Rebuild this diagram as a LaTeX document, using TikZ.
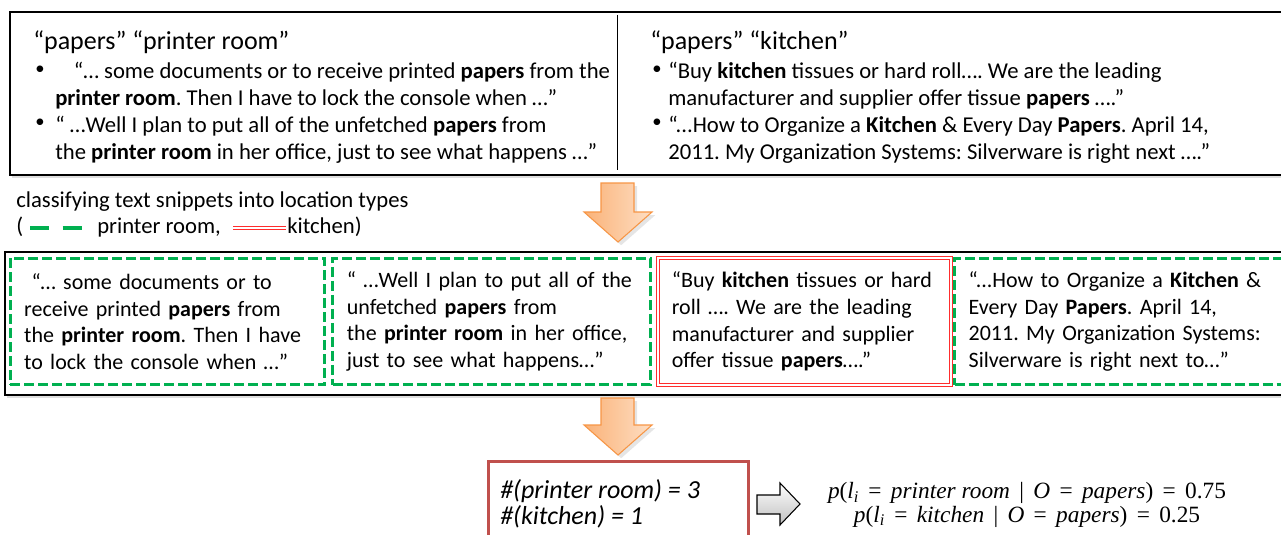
\documentclass[tikz,border=0pt]{standalone}
\usepackage{fontspec}
\setmainfont{Carlito}
\newfontfamily\formfont{Liberation Serif}
\usetikzlibrary{shadows}
\definecolor{prgreen}{RGB}{0,176,80}
\definecolor{kred}{RGB}{255,45,45}
\definecolor{cntred}{RGB}{192,80,77}
\definecolor{arrline}{RGB}{247,150,70}
\definecolor{arrdark}{RGB}{250,178,120}
\definecolor{arrlight}{RGB}{254,222,195}
\newcommand{\rel}[1]{\hspace{0.4em}#1\hspace{0.4em}}

\begin{document}
\frenchspacing
\begin{tikzpicture}[x=0.75pt,y=-0.75pt,
  frame/.style={draw=black,line width=1.5pt,fill=white,drop shadow={shadow xshift=1.5pt,shadow yshift=-2pt,opacity=0.25}},
  head/.style={anchor=base west,inner sep=0pt,align=left,font=\fontsize{19.5}{22}\selectfont},
  body/.style={anchor=north west,inner sep=0pt,align=left,font=\fontsize{17}{20}\selectfont},
  line/.style={anchor=base west,inner sep=0pt,font=\fontsize{17}{20}\selectfont},
  dot/.style={inner sep=0pt,font=\fontsize{14}{20}\selectfont},
  snip/.style={minimum height=95pt,inner xsep=10.5pt,align=left,font=\fontsize{16.5}{20}\selectfont},
  prbox/.style={snip,draw=prgreen,line width=2.25pt,dash pattern=on 7.5pt off 3pt},
  kbox/.style={snip,draw=kred,double=white,line width=0.8pt,double distance=1.5pt},
  downarr/.style={draw=arrline,line width=0.8pt,left color=arrdark,right color=arrlight,drop shadow={opacity=0.2}},
  rightarr/.style={draw=black,line width=0.8pt,top color=white,bottom color=gray!50}]
\clip (0,0) rectangle (1281,535);
\fill[white] (0,0) rectangle (1281,535);

% query results for the two location types
\draw[frame] (10,12) rectangle (1295,175);
\draw[line width=0.6pt] (617,15) -- (617,170);
\node[head] (titlePR) at (33,50) {“papers” “printer room”};
\node[dot] (dotPR1) at (40,70) {\textbullet};
\node[body] (itemPR1) at (55,62) {\hspace*{14pt}“… some documents or to receive printed \textbf{papers} from the\\\textbf{printer room}. Then I have to lock the console when …”};
\node[dot] (dotPR2) at (40,123) {\textbullet};
\node[body] (itemPR2) at (55,116) {“ …Well I plan to put all of the unfetched \textbf{papers} from\\the \textbf{printer room} in her office, just to see what happens …”};
\node[head] (titleK) at (650,50) {“papers” “kitchen”};
\node[dot] (dotK1) at (657,70) {\textbullet};
\node[body] (itemK1) at (668,62) {“Buy \textbf{kitchen} tissues or hard roll…. We are the leading\\manufacturer and supplier offer tissue \textbf{papers} ….”};
\node[dot] (dotK2) at (657,123) {\textbullet};
\node[body] (itemK2) at (668,116) {“...How to Organize a \textbf{Kitchen} \& Every Day \textbf{Papers}. April 14,\\2011. My Organization Systems: Silverware is right next ….”};

% legend
\node[line] (legend) at (16,207) {classifying text snippets into location types};
\node[line] (legOpen) at (16,233) {(};
\draw[prgreen,line width=3pt,dash pattern=on 14.5pt off 10pt] (30,228) -- (83,228);
\node[line] (legPR) at (97,233) {printer room,};
\draw[kred,double=white,line width=0.8pt,double distance=1.2pt] (233,228) -- (286,228);
\node[line] (legK) at (287,233) {kitchen)};

\draw[downarr] (601,183) -- (634,183) -- (634,212) -- (652,212) -- (618,242) -- (584,212) -- (601,212) -- cycle;

% classified snippets
\draw[frame] (5,252) rectangle (1295,395);
\node[prbox,text width=215pt] (snipA) at (167.5,321.5) {\ “… some documents or to\\receive printed \textbf{papers} from\\the \textbf{printer room}. Then I have\\to lock the console when …”};
\node[prbox,text width=217pt] (snipB) at (491.5,321.5) {“ …Well I plan to put all of the\\unfetched \textbf{papers} from\\the \textbf{printer room} in her office,\\just to see what happens…”};
\node[kbox,text width=199pt] (snipC) at (804.5,321.5) {“Buy \textbf{kitchen} tissues or hard\\roll …. We are the leading\\manufacturer and supplier\\offer tissue \textbf{papers}….”};
\node[prbox,text width=233pt] (snipD) at (1124,321.5) {“...How to Organize a \textbf{Kitchen} \&\\Every Day \textbf{Papers}. April 14,\\2011. My Organization Systems:\\Silverware is right next to…”};

\draw[downarr] (601,398) -- (634,398) -- (634,425) -- (652,425) -- (618,455) -- (584,425) -- (601,425) -- cycle;

% counts and probabilities
\draw[draw=cntred,line width=2.25pt] (488,461) rectangle (748,550);
\node[anchor=north west,inner sep=0pt,align=left,font=\itshape\fontsize{19.5}{19.5}\selectfont] (counts) at (500,479) {\#(printer room) = 3\\\#(kitchen) = 1};
\draw[rightarr] (757,495) -- (780,495) -- (780,483) -- (800,504) -- (780,525) -- (780,514) -- (757,514) -- cycle;
\node[align=center,inner sep=0pt,font=\formfont\fontsize{17.5}{17.5}\selectfont] (prob) at (1027,505) {\textit{p}(\textit{l}\textsubscript{\textit{i}}\rel{=}\textit{printer room}\rel{|}\textit{O}\rel{=}\textit{papers})\rel{=}0.75\\\textit{p}(\textit{l}\textsubscript{\textit{i}}\rel{=}\textit{kitchen}\rel{|}\textit{O}\rel{=}\textit{papers})\rel{=}0.25};
\end{tikzpicture}
\end{document}
